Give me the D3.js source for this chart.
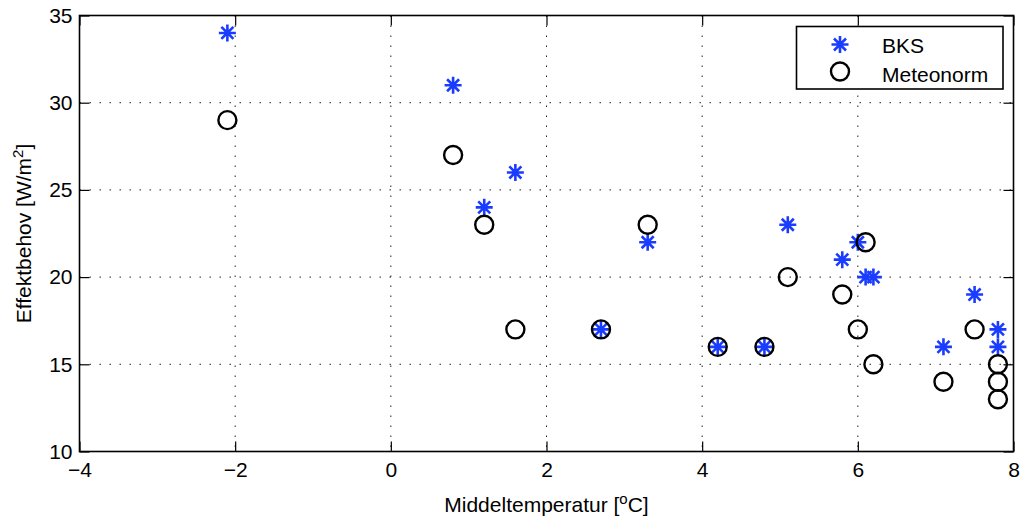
<!DOCTYPE html>
<html><head><meta charset="utf-8">
<script src="https://cdn.jsdelivr.net/npm/d3@7"></script>
<style>body{margin:0;background:#fff}svg{display:block}text{font-family:"Liberation Sans",Arial,sans-serif;fill:#000}</style>
</head><body>
<svg id="c" width="1024" height="519"></svg>
<script>
const bksX = [-2.1, 0.8, 1.2, 1.6, 2.7, 3.3, 4.2, 4.8, 5.1, 5.8, 6.0, 6.1, 6.2, 7.1, 7.5, 7.8, 7.8];
const bksY = [34, 31, 24, 26, 17, 22, 16, 16, 23, 21, 22, 20, 20, 16, 19, 17, 16];
const metX = [-2.1, 0.8, 1.2, 1.6, 2.7, 3.3, 4.2, 4.8, 5.1, 5.8, 6.0, 6.1, 6.2, 7.1, 7.5, 7.8, 7.8, 7.8];
const metY = [29, 27, 23, 17, 17, 23, 16, 16, 20, 19, 17, 22, 15, 14, 17, 15, 14, 13];
const xTicks = [-4, -2, 0, 2, 4, 6, 8];
const yTicks = [10, 15, 20, 25, 30, 35];
const seriesNames = ["BKS", "Meteonorm"];

const svg = d3.select("#c");
const L = 79.5, R = 1013.5, T = 15.5, B = 451.5;
const x = d3.scaleLinear().domain([-4, 8]).range([L, R]);
const y = d3.scaleLinear().domain([10, 35]).range([B, T]);
const blue = "#1a3cff";
const fs = 21;

// grid
const g = svg.append("g");
g.selectAll(".gx").data(xTicks.slice(1, -1)).join("line")
  .attr("x1", d => x(d)).attr("x2", d => x(d)).attr("y1", T).attr("y2", B)
  .attr("stroke", "#222").attr("stroke-width", 1).attr("stroke-dasharray", "1.5,8.5");
g.selectAll(".gy").data(yTicks.slice(1, -1)).join("line")
  .attr("y1", d => y(d)).attr("y2", d => y(d)).attr("x1", L).attr("x2", R)
  .attr("stroke", "#222").attr("stroke-width", 1).attr("stroke-dasharray", "1.5,8.5");

// axes with inward ticks
const fmt = d => d < 0 ? "\u2212" + Math.abs(d) : String(d);
const tl = 10;
const ax = svg.append("g").attr("transform", `translate(0,${B})`)
  .call(d3.axisBottom(x).tickValues(xTicks).tickSize(-tl).tickPadding(11).tickFormat(fmt));
const axT = svg.append("g").attr("transform", `translate(0,${T})`)
  .call(d3.axisTop(x).tickValues(xTicks).tickSize(-tl).tickFormat(""));
const ay = svg.append("g").attr("transform", `translate(${L},0)`)
  .call(d3.axisLeft(y).tickValues(yTicks).tickSize(-tl).tickPadding(7).tickFormat(fmt));
const ayR = svg.append("g").attr("transform", `translate(${R},0)`)
  .call(d3.axisRight(y).tickValues(yTicks).tickSize(-tl).tickFormat(""));
[ax, axT, ay, ayR].forEach(a => {
  a.select(".domain").remove();
  a.selectAll(".tick line").attr("stroke", "#000").attr("stroke-width", 1.2);
  a.selectAll(".tick text").attr("font-size", fs).attr("font-family", '"Liberation Sans",Arial,sans-serif').attr("fill", "#000");
});
svg.append("rect").attr("x", L).attr("y", T).attr("width", R - L).attr("height", B - T)
  .attr("fill", "none").attr("stroke", "#000").attr("stroke-width", 1.6);

// markers
function star(sel, cx, cy, r) {
  const a = r * Math.SQRT1_2;
  sel.append("path")
    .attr("d", `M${cx - r},${cy}H${cx + r}M${cx},${cy - r}V${cy + r}M${cx - a},${cy - a}L${cx + a},${cy + a}M${cx - a},${cy + a}L${cx + a},${cy - a}`)
    .attr("stroke", blue).attr("stroke-width", 2.6).attr("fill", "none");
}
const mk = svg.append("g");
bksX.forEach((v, i) => star(mk, x(v), y(bksY[i]), 8.5));
mk.selectAll("circle").data(metX).join("circle")
  .attr("cx", d => x(d)).attr("cy", (d, i) => y(metY[i])).attr("r", 9)
  .attr("fill", "none").attr("stroke", "#000").attr("stroke-width", 2.4);

// legend
const lg = svg.append("g");
lg.append("rect").attr("x", 796.5).attr("y", 26.5).attr("width", 206.5).attr("height", 62.5)
  .attr("fill", "#fff").attr("stroke", "#000").attr("stroke-width", 1.6);
star(lg, 840, 44.5, 8.5);
lg.append("circle").attr("cx", 840).attr("cy", 71.5).attr("r", 9).attr("fill", "none").attr("stroke", "#000").attr("stroke-width", 2.4);
lg.append("text").attr("x", 882).attr("y", 53).attr("font-size", fs).text(seriesNames[0]);
lg.append("text").attr("x", 882).attr("y", 81.5).attr("font-size", fs).text(seriesNames[1]);

// axis labels
const xl = svg.append("text").attr("x", (L + R) / 2).attr("y", 512).attr("text-anchor", "middle").attr("font-size", fs);
xl.append("tspan").text("Middeltemperatur [");
xl.append("tspan").attr("dy", -8).attr("font-size", 15).text("o");
xl.append("tspan").attr("dy", 8).text("C]");
const yl = svg.append("text").attr("transform", `translate(31,${(T + B) / 2}) rotate(-90)`).attr("text-anchor", "middle").attr("font-size", fs);
yl.append("tspan").text("Effektbehov [W/m");
yl.append("tspan").attr("dy", -8).attr("font-size", 15).text("2");
yl.append("tspan").attr("dy", 8).text("]");
</script>
</body></html>
